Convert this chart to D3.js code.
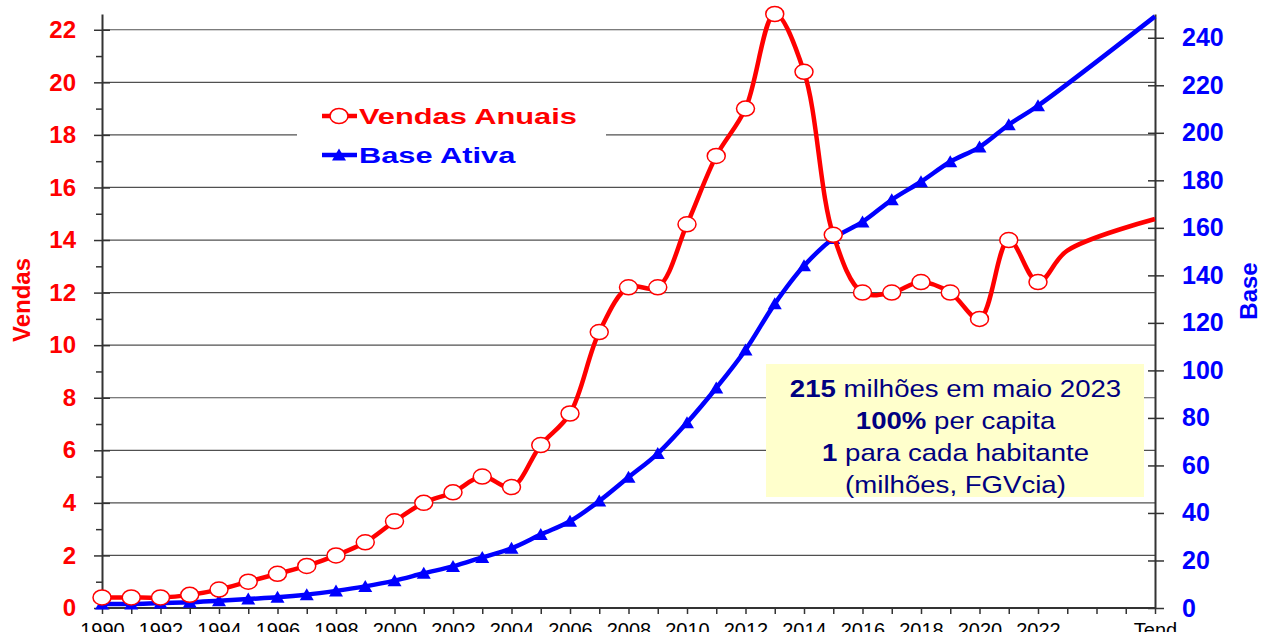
<!DOCTYPE html>
<html>
<head>
<meta charset="utf-8">
<script src="https://cdn.jsdelivr.net/npm/d3@7"></script>
<style>
  html, body { margin: 0; padding: 0; background: #fff; }
  svg { display: block; font-family: "Liberation Sans", Arial, sans-serif; }
</style>
</head>
<body>
<svg id="chart" width="1266" height="632"></svg>
<script>
// ---- data ----
const categories = ["1990","1991","1992","1993","1994","1995","1996","1997","1998","1999",
  "2000","2001","2002","2003","2004","2005","2006","2007","2008","2009",
  "2010","2011","2012","2013","2014","2015","2016","2017","2018","2019",
  "2020","2021","2022","2023","2024","2025","Tend"];
const xTickLabels = ["1990","1992","1994","1996","1998","2000","2002","2004","2006","2008",
  "2010","2012","2014","2016","2018","2020","2022","Tend"];
const vendas = [0.4,0.4,0.4,0.5,0.7,1.0,1.3,1.6,2.0,2.5,
  3.3,4.0,4.4,5.0,4.6,6.2,7.4,10.5,12.2,12.2,
  14.6,17.2,19.0,22.6,20.4,14.2,12.0,12.0,12.4,12.0,
  11.0,14.0,12.4,13.6,null,null,14.8];
const base = [1.7,1.7,2.1,2.4,3.1,3.8,4.5,5.6,7.2,9.1,
  11.5,14.6,17.5,21.3,25.1,30.9,36.5,45,55,65,
  78,92.6,108.6,128,144,155.5,162.5,171.8,179.4,187.8,
  194,203.4,211.4,null,null,null,249];
const lastMarker = "2022";
const leftTicks = [0,2,4,6,8,10,12,14,16,18,20,22];
const leftMinor = [1,3,5,7,9,11,13,15,17,19,21];
const rightTicks = [0,20,40,60,80,100,120,140,160,180,200,220,240];
const seriesNames = ["Vendas Anuais","Base Ativa"];
const axisTitles = ["Vendas","Base"];
const noteLines = [["215"," milhões em maio 2023"],["100%"," per capita"],["1"," para cada habitante"],["","(milhões, FGVcia)"]];

// ---- layout ----
const svg = d3.select("#chart");
const X0 = 102, X1 = 1155, Y0 = 608, Y1 = 14;
const RED = "#ff0000", BLUE = "#0000ff", NAVY = "#000080";

const x = d3.scalePoint().domain(categories).range([X0, X1]);
const yL = d3.scaleLinear().domain([0, 22.6]).range([Y0, Y1]);
const yR = d3.scaleLinear().domain([0, 250]).range([Y0, Y1]);

// gridlines
svg.append("g").selectAll("line").data(leftTicks.filter(d => d > 0)).join("line")
  .attr("x1", X0).attr("x2", X1)
  .attr("y1", d => yL(d)).attr("y2", d => yL(d))
  .attr("stroke", "#505050").attr("stroke-width", 1.2);

// annotation box
const note = svg.append("g");
note.append("rect").attr("x", 766).attr("y", 364).attr("width", 378).attr("height", 133)
  .attr("fill", "#ffffcc");
noteLines.forEach((ln, i) => {
  const t = note.append("text")
    .attr("transform", `translate(955.5,${397 + i * 32}) scale(1.15,1)`)
    .attr("text-anchor", "middle").attr("font-size", 24).attr("fill", NAVY);
  if (ln[0]) t.append("tspan").attr("font-weight", "bold").text(ln[0]);
  t.append("tspan").text(ln[1]);
});

// legend box
const leg = svg.append("g");
leg.append("rect").attr("x", 297).attr("y", 92).attr("width", 309).attr("height", 82).attr("fill", "#fff");

// axes
function styleAxis(g) {
  g.select(".domain").attr("stroke", "#333").attr("stroke-width", 2);
  g.selectAll(".tick line").attr("stroke", "#333").attr("stroke-width", 1.5);
}
const gL = svg.append("g").attr("transform", `translate(${X0},0)`)
  .call(d3.axisLeft(yL).tickValues(leftTicks).tickSize(8).tickPadding(18).tickSizeOuter(0));
styleAxis(gL);
gL.selectAll("text").attr("font-size", 24).attr("font-weight", "bold").attr("fill", RED)
  .attr("font-family", "Liberation Sans, Arial, sans-serif");
const gLi = svg.append("g").attr("transform", `translate(${X0},0)`)
  .call(d3.axisRight(yL).tickValues(leftTicks).tickSize(8).tickFormat("").tickSizeOuter(0));
styleAxis(gLi); gLi.select(".domain").remove();
const gLm = svg.append("g").attr("transform", `translate(${X0},0)`)
  .call(d3.axisLeft(yL).tickValues(leftMinor).tickSize(6).tickFormat("").tickSizeOuter(0));
styleAxis(gLm); gLm.select(".domain").remove();

const gR = svg.append("g").attr("transform", `translate(${X1},0)`)
  .call(d3.axisRight(yR).tickValues(rightTicks).tickSize(9).tickPadding(18).tickSizeOuter(0));
styleAxis(gR);
gR.selectAll("text").attr("font-size", 25).attr("font-weight", "bold").attr("fill", BLUE)
  .attr("font-family", "Liberation Sans, Arial, sans-serif");
const gRi = svg.append("g").attr("transform", `translate(${X1},0)`)
  .call(d3.axisLeft(yR).tickValues(rightTicks).tickSize(7).tickFormat("").tickSizeOuter(0));
styleAxis(gRi); gRi.select(".domain").remove();

const gX = svg.append("g").attr("transform", `translate(0,${Y0})`)
  .call(d3.axisBottom(x).tickSize(6).tickPadding(9).tickSizeOuter(0)
    .tickFormat(d => xTickLabels.includes(d) ? d : ""));
styleAxis(gX);
gX.select(".domain").attr("d", `M${X0},0H${X1}`);
gX.selectAll("text").attr("font-size", 20).attr("fill", "#000")
  .attr("font-family", "Liberation Sans, Arial, sans-serif");

// axis titles
svg.append("text").attr("transform", "translate(30,300) rotate(-90)")
  .attr("text-anchor", "middle").attr("font-size", 24).attr("font-weight", "bold")
  .attr("fill", RED).text(axisTitles[0]);
svg.append("text").attr("transform", "translate(1257,291) rotate(-90)")
  .attr("text-anchor", "middle").attr("font-size", 24).attr("font-weight", "bold")
  .attr("fill", BLUE).text(axisTitles[1]);

// series
const vData = categories.map((c, i) => ({c, v: vendas[i], i})).filter(d => d.v != null);
const bData = categories.map((c, i) => ({c, v: base[i], i})).filter(d => d.v != null);
const lastIdx = categories.indexOf(lastMarker);

const curve = d3.curveCatmullRom.alpha(0.5);
svg.append("path").datum(bData)
  .attr("d", d3.line().x(d => x(d.c)).y(d => yR(d.v)).curve(curve))
  .attr("fill", "none").attr("stroke", BLUE).attr("stroke-width", 4.5);
const tri = "M0,-6.5L7,5.5L-7,5.5Z";
svg.append("g").selectAll("path").data(bData.filter(d => d.i <= lastIdx)).join("path")
  .attr("transform", d => `translate(${x(d.c)},${yR(d.v)})`)
  .attr("d", tri).attr("fill", BLUE);

svg.append("path").datum(vData)
  .attr("d", d3.line().x(d => x(d.c)).y(d => yL(d.v)).curve(curve))
  .attr("fill", "none").attr("stroke", RED).attr("stroke-width", 4.5);
svg.append("g").selectAll("ellipse").data(vData.filter(d => d.i <= lastIdx)).join("ellipse")
  .attr("cx", d => x(d.c)).attr("cy", d => yL(d.v))
  .attr("rx", 9).attr("ry", 7.5)
  .attr("fill", "#fff").attr("stroke", RED).attr("stroke-width", 1.5);

// legend
leg.append("line").attr("x1", 322).attr("x2", 357).attr("y1", 116).attr("y2", 116)
  .attr("stroke", RED).attr("stroke-width", 4.5);
leg.append("ellipse").attr("cx", 339).attr("cy", 116).attr("rx", 9).attr("ry", 7.5)
  .attr("fill", "#fff").attr("stroke", RED).attr("stroke-width", 1.5);
leg.append("line").attr("x1", 322).attr("x2", 357).attr("y1", 155).attr("y2", 155)
  .attr("stroke", BLUE).attr("stroke-width", 4.5);
leg.append("path").attr("transform", "translate(339,155)").attr("d", tri).attr("fill", BLUE);
leg.append("text").attr("transform", "translate(359,124) scale(1.4,1)")
  .attr("font-size", 22).attr("font-weight", "bold").attr("fill", RED).text(seriesNames[0]);
leg.append("text").attr("transform", "translate(359,163) scale(1.4,1)")
  .attr("font-size", 22).attr("font-weight", "bold").attr("fill", BLUE).text(seriesNames[1]);
</script>
</body>
</html>
